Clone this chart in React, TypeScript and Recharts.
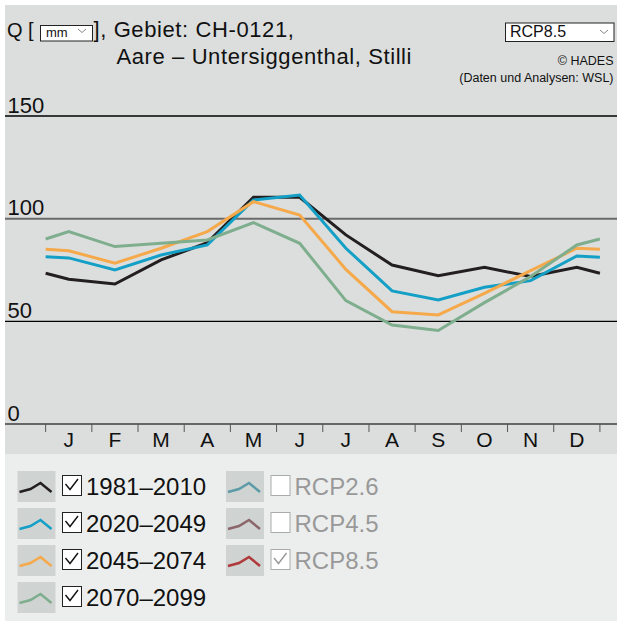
import React from "react";
import { LineChart, Line, XAxis, YAxis, ReferenceLine } from "recharts";

const FONT = "'Liberation Sans', Arial, Helvetica, sans-serif";

const monthLabels = ["J", "F", "M", "A", "M", "J", "J", "A", "S", "O", "N", "D"];
// 0 = start of January, 12 = end of December; monthly values sit at the month centres
const xPositions = [0, 0.5, 1.5, 2.5, 3.5, 4.5, 5.5, 6.5, 7.5, 8.5, 9.5, 10.5, 11.5, 12];
const xTicks = [0, 0.5, 1, 1.5, 2, 2.5, 3, 3.5, 4, 4.5, 5, 5.5, 6, 6.5, 7, 7.5, 8, 8.5, 9, 9.5, 10, 10.5, 11, 11.5, 12];

// mean discharge Q [mm] (first/last = values drawn at the year edges)
const q1981 = [73.4, 70.5, 68.2, 79.9, 88.3, 110.4, 110.4, 92.1, 77.4, 72.2, 76.3, 71.8, 76.3, 73.4];
const q2020 = [81.5, 80.9, 75.0, 82.3, 87.2, 109.1, 111.5, 85.6, 64.8, 60.4, 66.6, 69.8, 81.8, 81.2];
const q2045 = [85.1, 84.4, 78.3, 85.6, 93.7, 108.3, 101.8, 75.3, 54.7, 53.1, 63.6, 74.7, 85.6, 85.1];
const q2070 = [90.1, 93.7, 86.4, 88.0, 89.6, 98.1, 88.0, 60.1, 48.2, 45.5, 59.1, 71.8, 87.2, 90.1];

const gridLines = [
  { y: 0, stroke: "none", width: 0 },
  { y: 50, stroke: "#000", width: 1.4 },
  { y: 100, stroke: "#6a6a6a", width: 2 },
  { y: 150, stroke: "#000", width: 1.4 },
];

const periods = [
  { key: "p1981", label: "1981\u20132010", color: "#231f20", values: q1981 },
  { key: "p2020", label: "2020\u20132049", color: "#14a0c6", values: q2020 },
  { key: "p2045", label: "2045\u20132074", color: "#f5a94a", values: q2045 },
  { key: "p2070", label: "2070\u20132099", color: "#7eae8d", values: q2070 },
];

const scenarios = [
  { label: "RCP2.6", color: "#5c9ba7", checked: false },
  { label: "RCP4.5", color: "#8b666b", checked: false },
  { label: "RCP8.5", color: "#b0393b", checked: true },
];

const data = xPositions.map((x, i) => {
  const row: Record<string, number> = { x };
  periods.forEach((p) => (row[p.key] = p.values[i]));
  return row;
});

const XTick = (props: any) => {
  const { x, y, payload } = props;
  const v = payload.value;
  if (Number.isInteger(v)) {
    return <line x1={x} y1={y} x2={x} y2={y + 8} stroke="#555" strokeWidth={1} />;
  }
  return (
    <text x={x} y={y + 23} textAnchor="middle" fontSize={21} fill="#111" fontFamily={FONT}>
      {monthLabels[Math.floor(v)]}
    </text>
  );
};

const GridLabel = (props: any) => {
  const { viewBox, value } = props;
  return (
    <text x={2.5} y={viewBox.y - 3.5} fontSize={22} fill="#111" fontFamily={FONT}>
      {value}
    </text>
  );
};

const Chevron = ({ x, y }: { x: number; y: number }) => (
  <polyline points={`${x},${y} ${x + 4},${y + 3.5} ${x + 8},${y}`} fill="none" stroke="#888" strokeWidth={1} />
);

const LegendIcon = ({ x, y, color }: { x: number; y: number; color: string }) => (
  <g>
    <rect x={x} y={y} width={38} height={31} fill="#cfd3d1" />
    <polyline
      points={`${x + 2},${y + 21} ${x + 13},${y + 18} ${x + 23},${y + 12} ${x + 34},${y + 21}`}
      fill="none"
      stroke={color}
      strokeWidth={2.5}
    />
  </g>
);

const CheckBox = ({ x, y, checked, grey }: { x: number; y: number; checked: boolean; grey: boolean }) => (
  <g>
    <rect x={x + 0.5} y={y + 0.5} width={19} height={20} fill="#fff" stroke={grey ? "#aaa" : "#222"} strokeWidth={1} />
    {checked && (
      <polyline
        points={`${x + 3.5},${y + 9} ${x + 8},${y + 14.5} ${x + 16},${y + 4}`}
        fill="none"
        stroke={grey ? "#999" : "#111"}
        strokeWidth={1.4}
      />
    )}
  </g>
);

export default function App() {
  const rowTop = [17, 54, 91, 128];
  return (
    <div style={{ position: "absolute", left: 5, top: 5, width: 612, height: 616, fontFamily: FONT }}>
      <div style={{ position: "relative", width: 612, height: 449, background: "#dcdedd" }}>
        <LineChart width={612} height={449} data={data} margin={{ top: 111, right: 0, bottom: 0, left: 0 }}>
          <XAxis
            dataKey="x"
            type="number"
            domain={[-0.88, 12.37]}
            ticks={xTicks}
            interval={0}
            allowDataOverflow
            tick={<XTick />}
            tickLine={false}
            tickSize={0}
            tickMargin={0}
            axisLine={{ stroke: "#666", strokeWidth: 2 }}
            height={30}
          />
          <YAxis type="number" domain={[0, 150]} hide />
          {gridLines.map((g) => (
            <ReferenceLine
              key={g.y}
              y={g.y}
              stroke={g.stroke}
              strokeWidth={g.width}
              label={<GridLabel value={g.y} />}
            />
          ))}
          {periods.map((p) => (
            <Line
              key={p.key}
              dataKey={p.key}
              type="linear"
              stroke={p.color}
              strokeWidth={3}
              dot={false}
              activeDot={false}
              isAnimationActive={false}
            />
          ))}
        </LineChart>
        <svg width={612} height={100} style={{ position: "absolute", left: 0, top: 0, pointerEvents: "none" }}>
          <g fontFamily={FONT} fill="#111">
            <text x={2} y={32} fontSize={20}>Q [</text>
            <rect x={35.5} y={20.5} width={52} height={15.5} fill="#fff" stroke="#222" strokeWidth={1} />
            <text x={41} y={31.5} fontSize={13}>mm</text>
            <Chevron x={73} y={24} />
            <text x={88.5} y={32} fontSize={22} letterSpacing={0.6}>], Gebiet: CH-0121,</text>
            <text x={111.5} y={58.5} fontSize={22} letterSpacing={0.6}>Aare – Untersiggenthal, Stilli</text>
            <rect x={500.5} y={18} width={108.5} height={18.5} fill="#fff" stroke="#222" strokeWidth={1} />
            <text x={505} y={31.5} fontSize={16}>RCP8.5</text>
            <Chevron x={595} y={25} />
          </g>
          <g fontFamily={FONT} fill="#111" fontSize={12.5} textAnchor="end">
            <text x={608.5} y={60}>© HADES</text>
            <text x={608.5} y={76.5}>(Daten und Analysen: WSL)</text>
          </g>
        </svg>
      </div>
      <div style={{ position: "absolute", left: 0, top: 449, width: 612, height: 167, background: "#eceeed" }}>
        <svg width={612} height={167}>
          {periods.map((p, i) => (
            <g key={p.key}>
              <LegendIcon x={12.5} y={rowTop[i]} color={p.color} />
              <CheckBox x={57} y={rowTop[i] + 4} checked={true} grey={false} />
              <text x={81} y={rowTop[i] + 24} fontSize={24} fill="#111" fontFamily={FONT}>
                {p.label}
              </text>
            </g>
          ))}
          {scenarios.map((s, i) => (
            <g key={s.label}>
              <LegendIcon x={221} y={rowTop[i]} color={s.color} />
              <CheckBox x={265.5} y={rowTop[i] + 4} checked={s.checked} grey={true} />
              <text x={289.5} y={rowTop[i] + 24} fontSize={24} fill="#999" fontFamily={FONT}>
                {s.label}
              </text>
            </g>
          ))}
        </svg>
      </div>
    </div>
  );
}
